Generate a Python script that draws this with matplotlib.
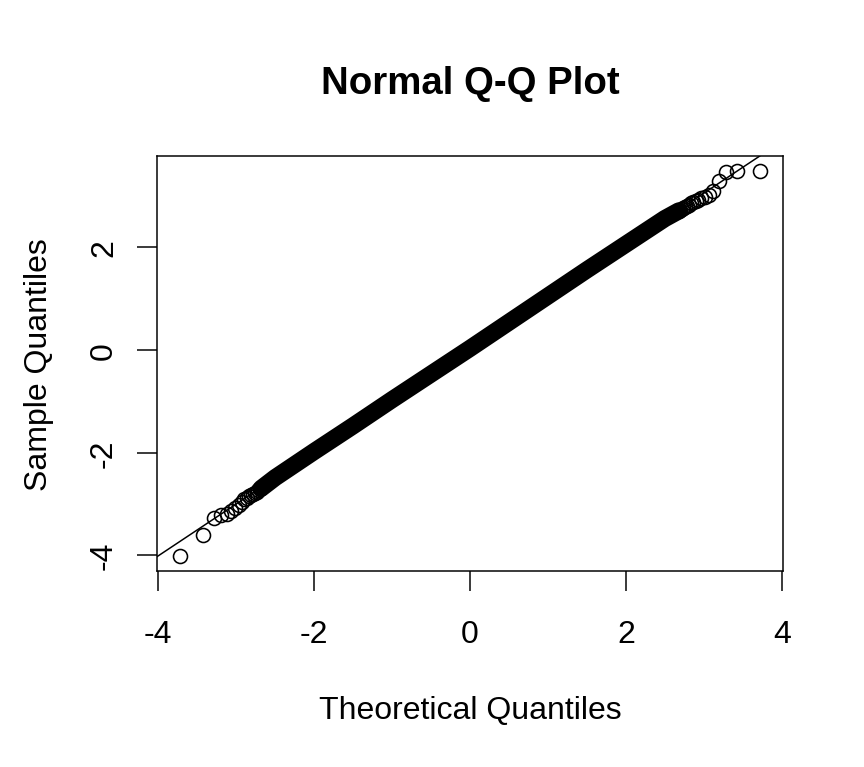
import matplotlib
matplotlib.use("Agg")
import matplotlib.pyplot as plt
from statistics import NormalDist

plt.rcParams['font.family'] = ['Liberation Sans', 'DejaVu Sans']
plt.rcParams['axes.unicode_minus'] = False

# sparse points at the low end (theoretical, sample)
low_x = [-3.719, -3.432, -3.291, -3.195, -3.121, -3.062, -3.011, -2.968, -2.929,
         -2.894, -2.863, -2.834, -2.806, -2.782, -2.759, -2.737, -2.717, -2.698, -2.680]
low_y = [-4.01, -3.61, -3.27, -3.22, -3.19, -3.14, -3.09, -3.02, -2.96,
         -2.91, -2.88, -2.85, -2.82, -2.80, -2.78, -2.76, -2.74, -2.72, -2.70]

# sparse points at the high end
high_x = [3.719, 3.432, 3.291, 3.195, 3.121, 3.062, 3.011, 2.968, 2.929,
          2.894, 2.863, 2.834, 2.806, 2.782, 2.759, 2.737, 2.717, 2.698, 2.680]
high_y = [3.48, 3.48, 3.46, 3.29, 3.09, 3.02, 2.99, 2.96, 2.93,
          2.90, 2.88, 2.86, 2.83, 2.81, 2.79, 2.77, 2.75, 2.73, 2.71]

# dense middle of the sample, where the circles merge into a solid band
band_x = [-2.68, -2.5, -2.0, -1.5, -1.0, -0.5, 0.0, 0.5, 1.0, 1.5, 2.0, 2.5, 2.68]
band_y = [-2.70, -2.49, -1.98, -1.48, -0.97, -0.47, 0.03, 0.54, 1.05, 1.56, 2.06, 2.56, 2.71]

# sample quartiles used for the reference line (qqline)
sample_q = [-0.656, 0.706]

ticks = [-4, -2, 0, 2, 4]

xs = low_x + high_x
ys = low_y + high_y

W, H = 864, 768
fig = plt.figure(figsize=(6, 5.3333), dpi=144)
ax = fig.add_axes([157 / W, 1 - 572 / H, 626 / W, 415 / H])

ax.plot(band_x, band_y, color='black', lw=8.6, solid_capstyle='round', zorder=2)
ax.plot(xs, ys, ls='none', marker='o', ms=7.0, mfc='none', mec='black', mew=0.8, zorder=3)

nd = NormalDist()
tq = [nd.inv_cdf(0.25), nd.inv_cdf(0.75)]
ax.axline((tq[0], sample_q[0]), (tq[1], sample_q[1]), color='black', lw=0.75, zorder=4)

# ticks first, set_ticks would otherwise widen the limits
ax.set_xticks(ticks)
ax.set_yticks(ticks)

# R style 4% padding on the data range
xr = max(xs) - min(xs)
yr = max(ys) - min(ys)
ax.set_xlim(min(xs) - 0.04 * xr, max(xs) + 0.04 * xr)
ax.set_ylim(min(ys) - 0.04 * yr, max(ys) + 0.04 * yr)

ax.tick_params(direction='out', length=10, width=0.75, labelsize=16)
ax.tick_params(axis='x', pad=14)
ax.tick_params(axis='y', pad=9)
for lab in ax.get_yticklabels():
    lab.set_rotation(90)
    lab.set_va('center')
for s in ax.spines.values():
    s.set_linewidth(0.75)

fig.text(470 / W, 1 - 94 / H, 'Normal Q-Q Plot', fontsize=19.2, fontweight='bold',
         ha='center', va='baseline')
fig.text(470 / W, 1 - 719 / H, 'Theoretical Quantiles', fontsize=16,
         ha='center', va='baseline')
fig.text(47 / W, 1 - 364.5 / H, 'Sample Quantiles', fontsize=16, rotation=90,
         ha='center', va='baseline', rotation_mode='anchor')

fig.savefig('out.png', dpi=144)
